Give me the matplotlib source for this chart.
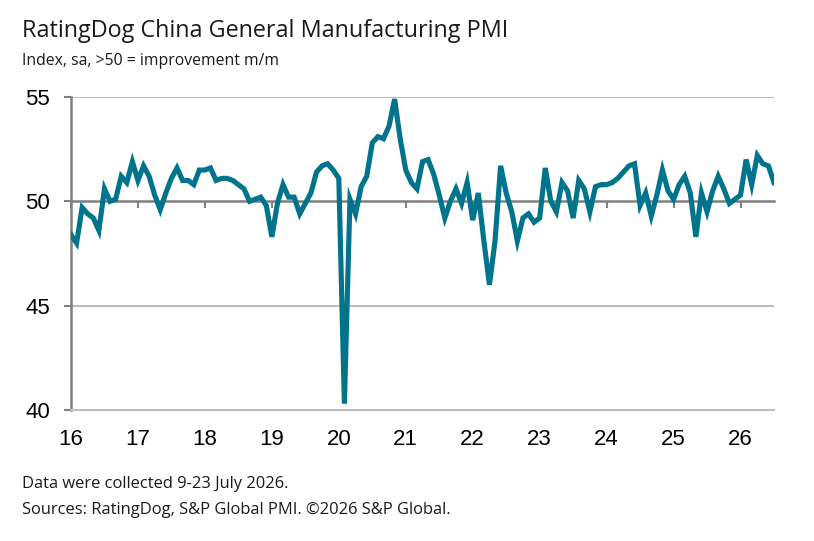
import numpy as np
import matplotlib
matplotlib.use('Agg')
import matplotlib.pyplot as plt

# maandwaarden PMI, jan 2016 t/m jul 2026
pmi_2016 = [48.4, 48.0, 49.7, 49.4, 49.2, 48.6, 50.6, 50.0, 50.1, 51.2, 50.9, 51.9]
pmi_2017 = [51.0, 51.7, 51.2, 50.3, 49.6, 50.4, 51.1, 51.6, 51.0, 51.0, 50.8, 51.5]
pmi_2018 = [51.5, 51.6, 51.0, 51.1, 51.1, 51.0, 50.8, 50.6, 50.0, 50.1, 50.2, 49.8]
pmi_2019 = [48.3, 49.9, 50.8, 50.2, 50.2, 49.4, 49.9, 50.4, 51.4, 51.7, 51.8, 51.5]
pmi_2020 = [51.1, 40.3, 50.1, 49.4, 50.7, 51.2, 52.8, 53.1, 53.0, 53.6, 54.9, 53.0]
pmi_2021 = [51.5, 50.9, 50.6, 51.9, 52.0, 51.3, 50.3, 49.2, 50.0, 50.6, 49.9, 50.9]
pmi_2022 = [49.1, 50.4, 48.1, 46.0, 48.1, 51.7, 50.4, 49.5, 48.1, 49.2, 49.4, 49.0]
pmi_2023 = [49.2, 51.6, 50.0, 49.5, 50.9, 50.5, 49.2, 51.0, 50.6, 49.5, 50.7, 50.8]
pmi_2024 = [50.8, 50.9, 51.1, 51.4, 51.7, 51.8, 49.8, 50.4, 49.3, 50.3, 51.5, 50.5]
pmi_2025 = [50.1, 50.8, 51.2, 50.4, 48.3, 50.4, 49.5, 50.5, 51.2, 50.6, 49.9, 50.1]
pmi_2026 = [50.3, 52.0, 50.8, 52.2, 51.8, 51.7, 50.9]

jaren = [16, 17, 18, 19, 20, 21, 22, 23, 24, 25, 26]
y_ticks = [40, 45, 50, 55]

pmi = np.array(pmi_2016 + pmi_2017 + pmi_2018 + pmi_2019 + pmi_2020 + pmi_2021
               + pmi_2022 + pmi_2023 + pmi_2024 + pmi_2025 + pmi_2026)
maanden = 16 + np.arange(len(pmi)) / 12

lijn_kleur = '#00748C'
grijs = '#808080'
licht_grijs = '#BFBFBF'
tekst_font = 'Open Sans'

fig = plt.figure(figsize=(8.14, 5.41), dpi=100)
ax = fig.add_axes([71 / 814, 131 / 541, 703 / 814, 313 / 541])

# rasterlijnen
for y in [45, 55]:
    ax.axhline(y, color=licht_grijs, lw=1.5, zorder=1)

ax.plot(maanden, pmi, color=lijn_kleur, lw=3.7, solid_joinstyle='miter', zorder=3)

ax.set_xlim(16, maanden[-1])
ax.set_ylim(40, 55)

# assen
for kant in ['top', 'right']:
    ax.spines[kant].set_visible(False)
ax.spines['left'].set_color(grijs)
ax.spines['left'].set_linewidth(1.8)
ax.spines['bottom'].set_color(licht_grijs)
ax.spines['bottom'].set_linewidth(1.5)

ax.set_yticks(y_ticks)
ax.set_yticklabels([str(v) for v in y_ticks])
ax.set_xticks(jaren)
ax.set_xticklabels([str(j) for j in jaren])
ax.tick_params(axis='y', length=5, width=1.5, color=grijs, pad=10,
               labelsize=16, labelfontfamily='Liberation Sans')
ax.tick_params(axis='x', length=0, pad=14, labelsize=16,
               labelfontfamily='Liberation Sans')

# 50-lijn met jaartikjes
lijn50 = ax.secondary_xaxis((50 - 40) / (55 - 40))
lijn50.set_xticks(jaren)
lijn50.tick_params(direction='in', length=5, width=1.5, color=grijs,
                   labeltop=False, labelbottom=False)
for kant in lijn50.spines:
    lijn50.spines[kant].set_color(grijs)
    lijn50.spines[kant].set_linewidth(1.8)

# titels
fig.text(22 / 814, 1 - 31 / 541, 'RatingDog China General Manufacturing PMI',
         fontsize=16.8, family=tekst_font, color='#1a1a1a', va='center')
fig.text(22 / 814, 1 - 61 / 541, 'Index, sa, >50 = improvement m/m',
         fontsize=11.3, family=tekst_font, color='#1a1a1a', va='center')

# voetnoten
fig.text(22 / 814, 1 - 484 / 541, 'Data were collected 9-23 July 2026.',
         fontsize=11.9, family=tekst_font, color='#1a1a1a', va='center')
fig.text(22 / 814, 1 - 510 / 541, 'Sources: RatingDog, S&P Global PMI. \u00a92026 S&P Global.',
         fontsize=11.9, family=tekst_font, color='#1a1a1a', va='center')

fig.savefig('out.png', dpi=100)
